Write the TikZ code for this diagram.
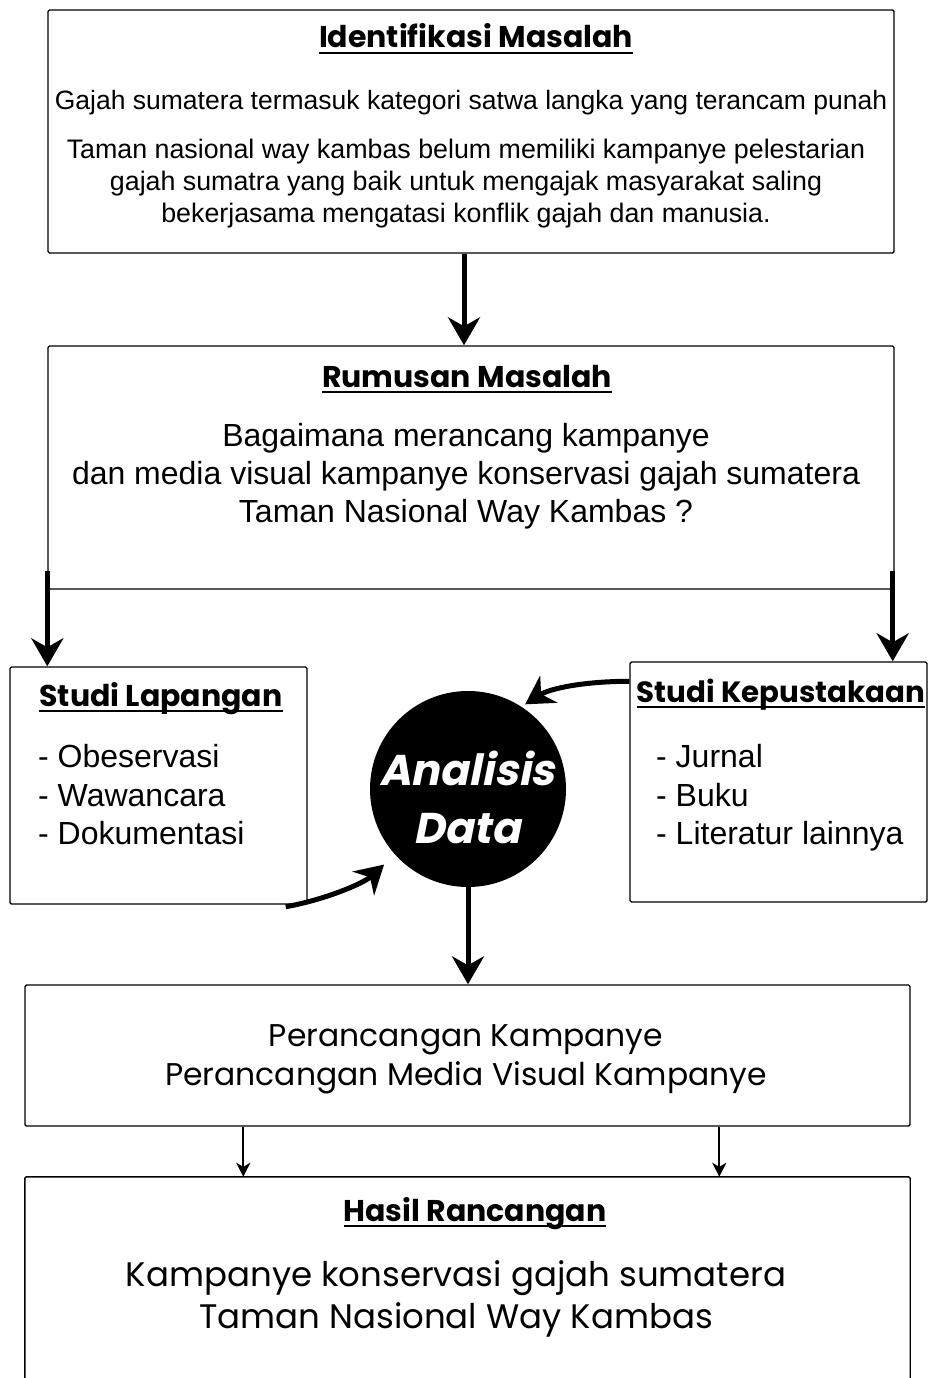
\documentclass[tikz,border=0pt]{standalone}
\usepackage{fontspec}
\setmainfont{Liberation Sans}
\newfontfamily\gothic{Poppins}
\newfontfamily\gothicsl[FakeSlant=0.2]{Poppins}
\usetikzlibrary{arrows.meta,calc}
\newcommand\ultitle[1]{\setbox0\hbox{\gothic\bfseries #1}\rlap{\rule[-6pt]{\wd0}{2pt}}\box0}
\begin{document}
\begin{tikzpicture}[x=1pt,y=-1pt,
  box/.style={draw,line width=1.4pt,rounded corners=1.5pt,inner sep=0pt},
  ttl/.style={inner sep=0pt,anchor=base,font=\fontsize{30}{34}\selectfont},
  body/.style={inner sep=0pt,align=center},
  thickarrow/.style={line width=5pt,-{Stealth[length=28pt,width=32pt,inset=9pt]}},
  thinarrow/.style={line width=2pt,-{Stealth[length=14pt,width=14pt,inset=4pt]}}]
\useasboundingbox (0,0) rectangle (928,1378);
% boxes
\node[box,minimum width=846pt,minimum height=243pt] (b1) at (471,131.5) {};
\node[box,minimum width=846pt,minimum height=243pt] (b2) at (471,467.5) {};
\node[box,minimum width=297pt,minimum height=237pt] (sl) at (158.5,785.5) {};
\node[box,minimum width=297pt,minimum height=240pt] (sk) at (778.5,782) {};
\node[circle,fill=black,minimum size=196pt,inner sep=0pt] (c) at (468,789) {};
\node[box,minimum width=885pt,minimum height=141pt] (bp) at (467.5,1055.5) {};
\node[inner sep=0pt,minimum width=885pt,minimum height=201pt] (hs) at (467.5,1277.5) {};
\draw[line width=1.4pt,rounded corners=1.5pt] (hs.south west) -- (hs.north west) -- (hs.north east) -- (hs.south east);
% texts
\node[ttl] (t1) at (476,48) {\ultitle{Identifikasi Masalah}};
\node[body,font=\fontsize{26.5}{32}\selectfont] (l1) at (471,103) {Gajah sumatera termasuk kategori satwa langka yang terancam punah};
\node[body,font=\fontsize{26.8}{32}\selectfont] (l2) at (466,184) {Taman nasional way kambas belum memiliki kampanye pelestarian\\gajah sumatra yang baik untuk mengajak masyarakat saling\\bekerjasama mengatasi konflik gajah dan manusia.};
\node[ttl] (t2) at (467,387) {\ultitle{Rumusan Masalah}};
\node[body,font=\fontsize{32}{38}\selectfont] (l3) at (466,476.5) {Bagaimana merancang kampanye\\dan media visual kampanye konservasi gajah sumatera\\Taman Nasional Way Kambas ?};
\node[ttl] (t3) at (161,706) {\ultitle{Studi Lapangan}};
\node[inner sep=0pt,align=left,anchor=west,font=\fontsize{32}{38.5}\selectfont] (l4) at (38,795) {- Obeservasi\\- Wawancara\\- Dokumentasi};
\node[ttl,font=\fontsize{29.3}{34}\selectfont] (t4) at (781,702) {\ultitle{Studi Kepustakaan}};
\node[inner sep=0pt,align=left,anchor=west,font=\fontsize{32}{38.5}\selectfont] (l5) at (656,798) {- Jurnal\\- Buku\\- Literatur lainnya};
\node[body,text=white,font=\gothicsl\bfseries\fontsize{43}{58}\selectfont] (ad) at (467,797) {Analisis\\Data};
\node[body,font=\gothic\fontsize{31.4}{39}\selectfont] (l6) at (466,1059) {Perancangan Kampanye\\Perancangan Media Visual Kampanye};
\node[ttl] (t5) at (475,1221) {\ultitle{Hasil Rancangan}};
\node[body,font=\gothic\fontsize{34}{42}\selectfont] (l7) at (456,1299) {Kampanye konservasi gajah sumatera\\Taman Nasional Way Kambas};
% connectors
\draw[thickarrow] ($(b1.south)+(-7,0)$) -- ($(b2.north)+(-7,0)$);
\coordinate (lstart) at ($(b2.south west)+(0,-19)$);
\coordinate (rstart) at ($(b2.south east)+(-2,-19)$);
\draw[thickarrow] (lstart) -- (sl.north -| lstart);
\draw[thickarrow] (rstart) -- (sk.north -| rstart);
\coordinate (skout) at ($(sk.north west)+(0,20)$);
\coordinate (skin) at ($(c.center)!1.04!(c.56)$);
\draw[thickarrow] (skout) .. controls +(-45,0) and +(25,-16) .. (skin);
\coordinate (slout) at ($(sl.south east)+(-22,2)$);
\coordinate (slin) at ($(c.center)!1.15!(c.222)$);
\draw[thickarrow] (slout) .. controls +(35,-6) and +(-22,20) .. (slin);
\draw[thickarrow] (c.south) -- (c.south |- bp.north);
\coordinate (pl) at ($(bp.south west)+(219,0)$);
\coordinate (pr) at ($(bp.south west)+(695,0)$);
\draw[thinarrow] (pl) -- (pl |- hs.north);
\draw[thinarrow] (pr) -- (pr |- hs.north);
\end{tikzpicture}
\end{document}
